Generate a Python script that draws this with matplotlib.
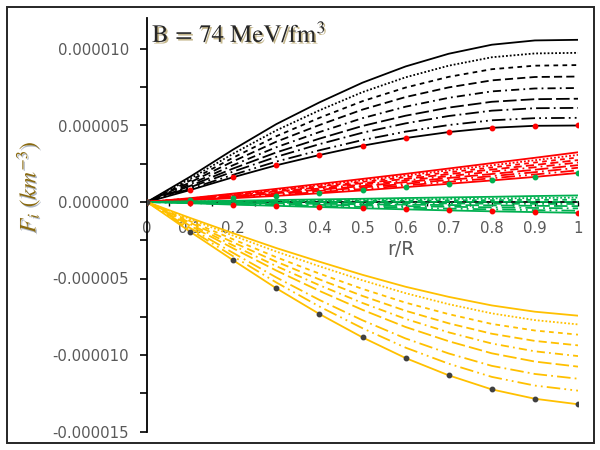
import numpy as np
import matplotlib
matplotlib.use("Agg")
import matplotlib.pyplot as plt
import matplotlib.patheffects as pe
from matplotlib.patches import Rectangle
from matplotlib.ticker import MultipleLocator, FuncFormatter

plt.rcParams["mathtext.fontset"] = "stix"

# ── DATA (values in units of 1e-6 km^-3) ──
r_R = [0, 0.1, 0.2, 0.3, 0.4, 0.5, 0.6, 0.7, 0.8, 0.9, 1.0]

black_1 = [0, 1.65, 3.43, 5.09, 6.51, 7.80, 8.86, 9.69, 10.28, 10.56, 10.60]
black_2 = [0, 1.52, 3.16, 4.68, 5.99, 7.18, 8.15, 8.91, 9.46, 9.71, 9.75]
black_3 = [0, 1.40, 2.90, 4.30, 5.50, 6.59, 7.48, 8.18, 8.68, 8.91, 8.95]
black_4 = [0, 1.28, 2.66, 3.94, 5.03, 6.04, 6.86, 7.49, 7.95, 8.17, 8.20]
black_5 = [0, 1.16, 2.41, 3.58, 4.57, 5.48, 6.23, 6.81, 7.23, 7.42, 7.45]
black_6 = [0, 1.05, 2.19, 3.24, 4.14, 4.97, 5.64, 6.17, 6.55, 6.72, 6.75]
black_7 = [0, 0.96, 1.99, 2.95, 3.78, 4.53, 5.14, 5.62, 5.97, 6.13, 6.15]
black_8 = [0, 0.86, 1.78, 2.64, 3.38, 4.05, 4.60, 5.03, 5.34, 5.48, 5.50]
black_9 = [0, 0.78, 1.62, 2.40, 3.07, 3.68, 4.18, 4.57, 4.85, 4.98, 5.00]

red_1 = [0, 0.25, 0.55, 0.86, 1.18, 1.51, 1.84, 2.19, 2.54, 2.89, 3.25]
red_2 = [0, 0.23, 0.51, 0.80, 1.10, 1.42, 1.73, 2.07, 2.40, 2.73, 3.08]
red_3 = [0, 0.22, 0.48, 0.75, 1.03, 1.32, 1.62, 1.94, 2.26, 2.58, 2.91]
red_4 = [0, 0.20, 0.44, 0.69, 0.95, 1.23, 1.51, 1.82, 2.12, 2.42, 2.74]
red_5 = [0, 0.19, 0.40, 0.63, 0.88, 1.14, 1.41, 1.69, 1.98, 2.27, 2.58]
red_6 = [0, 0.17, 0.36, 0.57, 0.80, 1.04, 1.30, 1.57, 1.83, 2.11, 2.41]
red_7 = [0, 0.15, 0.33, 0.52, 0.72, 0.95, 1.19, 1.44, 1.69, 1.95, 2.24]
red_8 = [0, 0.14, 0.29, 0.46, 0.65, 0.85, 1.08, 1.32, 1.55, 1.80, 2.07]
red_9 = [0, 0.12, 0.25, 0.40, 0.57, 0.76, 0.97, 1.19, 1.41, 1.64, 1.90]

green_1 = [0, 0.04, 0.08, 0.13, 0.17, 0.21, 0.26, 0.30, 0.34, 0.39, 0.43]
green_2 = [0, 0.03, 0.06, 0.09, 0.12, 0.15, 0.17, 0.20, 0.23, 0.26, 0.29]
green_3 = [0, 0.02, 0.03, 0.05, 0.06, 0.08, 0.09, 0.11, 0.12, 0.14, 0.15]
green_4 = [0, 0.00, 0.00, 0.00, 0.00, 0.01, 0.01, 0.01, 0.01, 0.01, 0.01]
green_5 = [0, -0.02, -0.03, -0.05, -0.06, -0.07, -0.08, -0.09, -0.11, -0.12, -0.13]
green_6 = [0, -0.03, -0.06, -0.09, -0.12, -0.15, -0.17, -0.20, -0.22, -0.25, -0.27]
green_7 = [0, -0.05, -0.10, -0.14, -0.19, -0.23, -0.27, -0.31, -0.35, -0.39, -0.42]
green_8 = [0, -0.07, -0.14, -0.20, -0.26, -0.32, -0.37, -0.43, -0.48, -0.53, -0.57]
green_9 = [0, -0.08, -0.17, -0.25, -0.33, -0.41, -0.48, -0.55, -0.61, -0.66, -0.71]

yellow_1 = [0, -1.04, -2.04, -3.01, -3.90, -4.76, -5.54, -6.20, -6.76, -7.17, -7.43]
yellow_2 = [0, -1.12, -2.20, -3.24, -4.20, -5.12, -5.96, -6.68, -7.28, -7.72, -8.00]
yellow_3 = [0, -1.25, -2.44, -3.61, -4.68, -5.68, -6.58, -7.33, -7.97, -8.40, -8.67]
yellow_4 = [0, -1.35, -2.64, -3.90, -5.06, -6.14, -7.11, -7.93, -8.61, -9.08, -9.37]
yellow_5 = [0, -1.45, -2.84, -4.19, -5.44, -6.60, -7.64, -8.52, -9.25, -9.76, -10.07]
yellow_6 = [0, -1.55, -3.03, -4.48, -5.81, -7.05, -8.17, -9.10, -9.89, -10.43, -10.76]
yellow_7 = [0, -1.70, -3.33, -4.93, -6.40, -7.73, -8.92, -9.90, -10.71, -11.24, -11.55]
yellow_8 = [0, -1.81, -3.55, -5.26, -6.83, -8.25, -9.52, -10.57, -11.43, -12.00, -12.33]
yellow_9 = [0, -1.94, -3.81, -5.64, -7.32, -8.85, -10.20, -11.33, -12.25, -12.86, -13.22]

groups = [
    ("#000000", "#ff0000", [black_1, black_2, black_3, black_4, black_5, black_6, black_7, black_8, black_9]),
    ("#ff0000", "#00b050", [red_1, red_2, red_3, red_4, red_5, red_6, red_7, red_8, red_9]),
    ("#00b050", "#ff0000", [green_1, green_2, green_3, green_4, green_5, green_6, green_7, green_8, green_9]),
    ("#ffc000", "#404040", [yellow_1, yellow_2, yellow_3, yellow_4, yellow_5, yellow_6, yellow_7, yellow_8, yellow_9]),
]

# Excel-like dash styles: solid, round dot, square dot, dash, dash-dot,
# long dash, long dash-dot, long dash-dot-dot, solid (+ markers)
STYLES = [
    "-",
    (0, (1, 1.1)),
    (0, (2.6, 2.4)),
    (0, (4.5, 2.3)),
    (0, (4.5, 2.3, 1, 2.3)),
    (0, (7.5, 2.3)),
    (0, (7.5, 2.3, 1, 2.3)),
    (0, (7.5, 2.3, 1, 2.3, 1, 2.3)),
    "-",
]

fig = plt.figure(figsize=(6, 4.5), dpi=100)
ax = fig.add_axes([147 / 600, 1 - 431.5 / 450, 431 / 600, (431.5 - 18.4) / 450])

x = np.array(r_R)
for line_c, mark_c, series in groups:
    for i, vals in enumerate(series):
        y = np.array(vals) * 1e-6
        if i == len(series) - 1:
            ax.plot(x, y, color=line_c, lw=1.3, ls="-", marker="o", ms=3.2,
                    mfc=mark_c, mec=mark_c, zorder=3)
        else:
            ax.plot(x, y, color=line_c, lw=1.3, ls=STYLES[i], zorder=3)

ax.set_xlim(0, 1)
ax.set_ylim(-1.5e-5, 1.2e-5)

ax.spines["top"].set_visible(False)
ax.spines["right"].set_visible(False)
ax.spines["bottom"].set_position(("data", 0))
ax.spines["left"].set_linewidth(1.3)
ax.spines["bottom"].set_linewidth(1.3)
ax.spines["left"].set_zorder(2)
ax.spines["bottom"].set_zorder(2)
ax.patch.set_alpha(0)

ax.yaxis.set_major_locator(MultipleLocator(5e-6))
ax.yaxis.set_minor_locator(MultipleLocator(2.5e-6))
ax.yaxis.set_major_formatter(FuncFormatter(lambda v, p: f"{v:.6f}"))
ax.xaxis.set_major_locator(MultipleLocator(0.1))
ax.xaxis.set_minor_locator(MultipleLocator(0.05))
ax.xaxis.set_major_formatter(FuncFormatter(lambda v, p: f"{v:g}"))

ax.tick_params(axis="y", which="both", direction="out", length=5, width=1.2,
               labelsize=10.7, labelcolor="#595959", pad=8)
ax.tick_params(axis="x", which="both", direction="out", length=3, width=1,
               labelsize=10.7, labelcolor="#595959", pad=11)

ax.text(0.59, -3.1e-6, "r/R", fontsize=13.5, color="#595959",
        ha="center", va="center")

shadow = [pe.withSimplePatchShadow(offset=(1.2, -1.2), shadow_rgbFace="#7f6000", alpha=0.45)]
fig.text(152 / 600, 1 - 42 / 450, r"$\mathrm{B}\,=\,74\ \mathrm{MeV/fm}^{3}$",
         fontsize=18, color="#262626", ha="left", va="baseline", path_effects=shadow)
fig.text(28 / 600, 1 - 187 / 450, r"$F_i\ (km^{-3})$", fontsize=17,
         color="#8a6a10", rotation=90, ha="center", va="center",
         path_effects=[pe.withSimplePatchShadow(offset=(1, -1), shadow_rgbFace="#1f3864", alpha=0.35)])

fig.patches.append(Rectangle((7 / 600, 1 - 443 / 450), 587 / 600, 436 / 450,
                             transform=fig.transFigure, fill=False,
                             edgecolor="#262626", linewidth=1.4))

fig.savefig("out.png", dpi=100, facecolor="white")
